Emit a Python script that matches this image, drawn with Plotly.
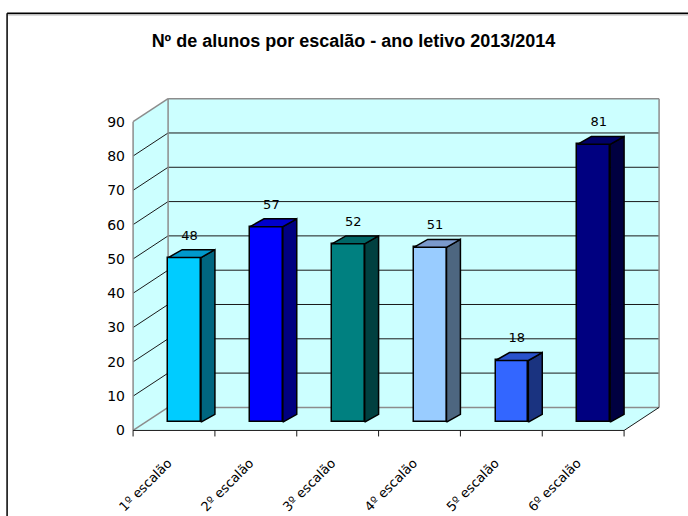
import plotly.graph_objects as go

# ---- data ----
categories = ["1º escalão", "2º escalão", "3º escalão", "4º escalão", "5º escalão", "6º escalão"]
values = [48, 57, 52, 51, 18, 81]
y_ticks = [0, 10, 20, 30, 40, 50, 60, 70, 80, 90]
title_text = "Nº de alunos por escalão - ano letivo 2013/2014"

# ---- styles ----
front_cols = ["#00CCFF", "#0000FF", "#008080", "#99CCFF", "#3366FF", "#000080"]
side_cols = ["#006680", "#000080", "#004040", "#4D6680", "#1A3380", "#000040"]
top_cols = ["#0099CC", "#0000CC", "#006666", "#7A99CC", "#2952CC", "#000066"]

# ---- geometry (axis units) ----
n = len(categories)
ymax = y_ticks[-1]
DX, DY = 0.4277, 6.72          # depth offset of the back wall
BASE, BW, BOFF = 2.4, 0.40, 0.43  # bar base, width, left offset within category
SDX, SDY = 0.17, 2.3           # bar depth

XR = [-0.05, 6.5]
YR = [-2.2, 97.5]
PXX, PXY = 81.83, 3.4213
L = 133 - (0 - XR[0]) * PXX
W = (XR[1] - XR[0]) * PXX
H = (YR[1] - YR[0]) * PXY
T = 430 - (YR[1] - 0) * PXY
B = 516 - T - H
R = 688 - L - W

fig = go.Figure()
shapes = []

def poly(pts):
    return "M " + " L ".join(f"{x},{y}" for x, y in pts) + " Z"

wall = "#CCFFFF"
shapes.append(dict(type="path", layer="below", xref="x", yref="y",
                   path=poly([(0, 0), (DX, DY), (DX, ymax + DY), (0, ymax)]),
                   fillcolor=wall, line=dict(width=0)))
shapes.append(dict(type="path", layer="below", xref="x", yref="y",
                   path=poly([(0, 0), (n, 0), (n + DX, DY), (DX, DY)]),
                   fillcolor=wall, line=dict(width=0)))
shapes.append(dict(type="path", layer="below", xref="x", yref="y",
                   path=poly([(DX, DY), (n + DX, DY), (n + DX, ymax + DY), (DX, ymax + DY)]),
                   fillcolor=wall, line=dict(width=0)))

def seg(x0, y0, x1, y1, color, width=1):
    shapes.append(dict(type="line", layer="below", xref="x", yref="y",
                       x0=x0, y0=y0, x1=x1, y1=y1, line=dict(color=color, width=width)))

for v in y_ticks[1:-1]:
    seg(DX, v + DY, n + DX, v + DY, "#1a1a1a", 1)
    seg(0, v, DX, v + DY, "#1a1a1a", 1)
g = "#8c8c8c"
seg(0, 0, 0, ymax, g, 1.5)
seg(0, ymax, DX, ymax + DY, g, 1.5)
seg(DX, ymax + DY, n + DX, ymax + DY, g, 1.5)
seg(n + DX, DY, n + DX, ymax + DY, g, 1.5)
seg(DX, DY, DX, ymax + DY, g, 1.5)
seg(DX, DY, n + DX, DY, g, 1.5)
seg(0, 0, DX, DY, g, 1.5)
seg(0, 0, n, 0, "#1a1a1a", 1)
seg(n, 0, n + DX, DY, "#1a1a1a", 1)
for i in range(n + 1):
    seg(i, 0, i, -1.75, "#1a1a1a", 1)

# ---- bars: front faces ----
centers = [i + BOFF + BW / 2 for i in range(n)]
fig.add_trace(go.Bar(x=centers, y=values, base=[BASE] * n, width=BW,
                     marker=dict(color=front_cols, line=dict(color="black", width=1.5)),
                     hoverinfo="skip", showlegend=False))

for i, v in enumerate(values):
    x0 = i + BOFF
    x1 = x0 + BW
    top = BASE + v
    fig.add_trace(go.Scatter(
        x=[x1, x1 + SDX, x1 + SDX, x1, x1], y=[BASE, BASE + SDY, top + SDY, top, BASE],
        fill="toself", fillcolor=side_cols[i], mode="lines",
        line=dict(color="black", width=1.5), hoverinfo="skip", showlegend=False))
    fig.add_trace(go.Scatter(
        x=[x0, x1, x1 + SDX, x0 + SDX, x0], y=[top, top, top + SDY, top + SDY, top],
        fill="toself", fillcolor=top_cols[i], mode="lines",
        line=dict(color="black", width=1.5), hoverinfo="skip", showlegend=False))

fig.add_trace(go.Scatter(
    x=[i + 0.69 for i in range(n)], y=[BASE + v + SDY + 3.9 for v in values],
    text=[str(v) for v in values], mode="text", textposition="middle center",
    textfont=dict(family="DejaVu Sans", size=13, color="black"),
    hoverinfo="skip", showlegend=False, cliponaxis=False))

def pxx(p):
    return (p - L) / W

def pxy(p):
    return (T + H - p) / H

for (xa, ya, xb, yb, c, w) in [
    (7, 14, 700, 14, "black", 1.5),
    (7, 14, 7, 530, "black", 1.5),
    (8, 15.5, 700, 15.5, "#9a9a9a", 1),
]:
    shapes.append(dict(type="line", xref="paper", yref="paper",
                       x0=pxx(xa), y0=pxy(ya), x1=pxx(xb), y1=pxy(yb),
                       line=dict(color=c, width=w)))

fig.update_layout(
    width=688, height=516,
    margin=dict(l=L, r=R, t=T, b=B, pad=0, autoexpand=False),
    paper_bgcolor="white", plot_bgcolor="white",
    shapes=shapes,
    title=dict(text="<b>" + title_text + "</b>", x=353.5 / 688, xref="container", xanchor="center",
               y=1 - 41 / 516, yref="container", yanchor="middle",
               font=dict(family="Liberation Sans", size=18, color="black")),
    xaxis=dict(range=XR, showgrid=False, zeroline=False, showline=False, automargin=False,
               tickvals=[i + 0.5 for i in range(n)], ticktext=categories,
               tickangle=-45, ticks="", ticklabelstandoff=14, ticklabelshift=-6,
               tickfont=dict(family="DejaVu Sans", size=13, color="black")),
    yaxis=dict(range=YR, showgrid=False, zeroline=False, showline=False, automargin=False,
               tickvals=y_ticks, ticks="", ticklabelstandoff=3,
               tickfont=dict(family="DejaVu Sans", size=14, color="black")),
    bargap=0,
)

fig.write_html("out.html", config={"displayModeBar": False},
               post_script="document.body.style.margin='0';")
